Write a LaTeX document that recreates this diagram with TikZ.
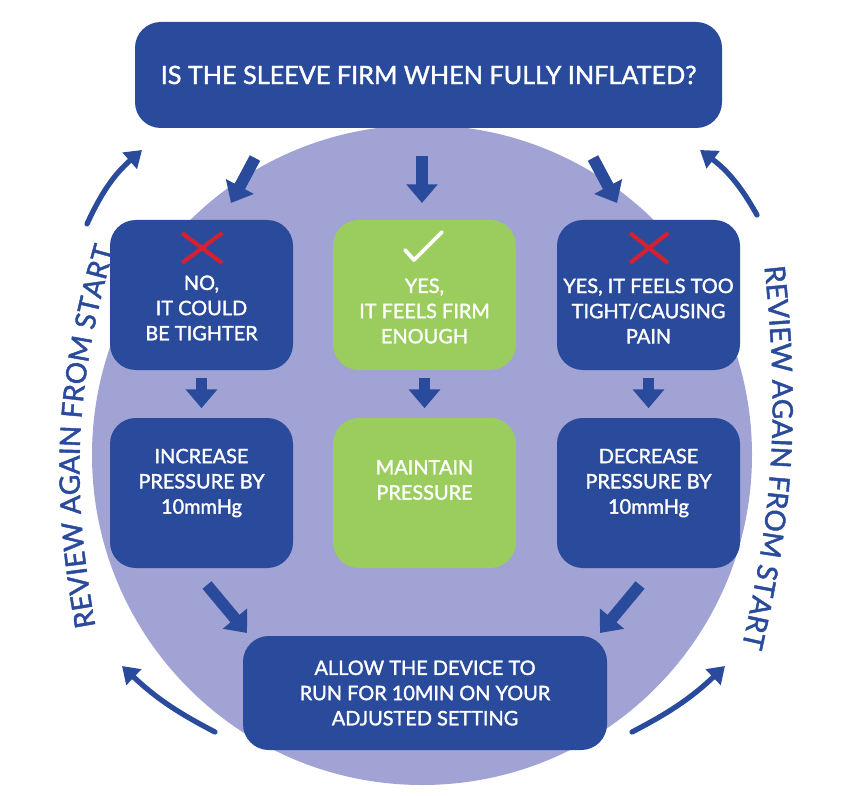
\documentclass[tikz,border=0pt]{standalone}
\usepackage{fontspec}
\setmainfont{Lato}[BoldFont=Lato,BoldFeatures={FakeBold=1.6}]
\usetikzlibrary{arrows.meta,decorations.text}
\definecolor{db}{HTML}{2A4B9B}
\definecolor{gr}{HTML}{9ACD5E}
\definecolor{lp}{HTML}{A0A3D3}
\definecolor{xr}{HTML}{D4202F}
\tikzset{
 box/.style={rounded corners=22pt,fill=db,text=white,align=center,font=\bfseries\fontsize{17}{21.5}\selectfont,inner sep=0},
 gbox/.style={box,fill=gr},
 lbl/.style={text=white,align=center,font=\bfseries\fontsize{17}{21.5}\selectfont},
 blk/.style={draw=db,line width=10pt,-{Triangle[width=26pt,length=16pt]}},
 arc/.style={draw=db,line width=4.5pt,line cap=round,-{Triangle[width=18pt,length=14pt]}},
 rev/.style={decorate,decoration={text along path,text align=center,text={|\bfseries\fontsize{24}{24}\selectfont\color{db}|REVIEW AGAIN FROM START}}},
}
\begin{document}
\begin{tikzpicture}[x=0.03cm,y=-0.03cm]
\useasboundingbox (0,0) rectangle (845,796);
\fill[lp] (422,455) circle (330*0.03cm);
\node[box,minimum width=587*0.03cm,minimum height=106*0.03cm,font=\bfseries\fontsize{21.5}{21}\selectfont] (top) at (428.5,75) {IS THE SLEEVE FIRM WHEN FULLY INFLATED?};
\foreach \n/\x/\s in {a/201.5/box,b/424.5/gbox,c/648.5/box}{
 \node[\s,minimum width=183*0.03cm,minimum height=150*0.03cm] (\n1) at (\x,295) {};
 \node[\s,minimum width=183*0.03cm,minimum height=150*0.03cm] (\n2) at (\x,493) {};
}
\node[lbl] (ta1) at (201.5,308) {NO,\\IT COULD\\BE TIGHTER};
\node[lbl] (tb1) at (424.5,311) {YES,\\IT FEELS FIRM\\ENOUGH};
\node[lbl] (tc1) at (648.5,311) {YES, IT FEELS TOO\\TIGHT/CAUSING\\PAIN};
\node[lbl] (ta2) at (201.5,483) {INCREASE\\PRESSURE BY\\10mmHg};
\node[lbl] (tb2) at (424.5,480) {MAINTAIN\\PRESSURE};
\node[lbl] (tc2) at (648.5,483) {DECREASE\\PRESSURE BY\\10mmHg};
\node[box,minimum width=364*0.03cm,minimum height=114*0.03cm] (bot) at (425,693) {ALLOW THE DEVICE TO\\RUN FOR 10MIN ON YOUR\\ADJUSTED SETTING};
% marks
\draw[xr,line width=3.5pt] (182,233)--(222,263) (222,233)--(182,263);
\draw[xr,line width=3.5pt] (630,233)--(668,263) (668,233)--(630,263);
\draw[white,line width=3.2pt,line cap=round,line join=round] (405,250)--(414,260)--(442,232);
% block arrows
\coordinate (t1s) at (255,158); \coordinate (t1e) at (231,203);
\coordinate (t2s) at (422,156); \coordinate (t2e) at (422,203);
\coordinate (t3s) at (593,158); \coordinate (t3e) at (617,203);
\draw[blk] (t1s)--(t1e); \draw[blk] (t2s)--(t2e); \draw[blk] (t3s)--(t3e);
\draw[blk] (a1.south)++(0,8)--++(0,30);
\draw[blk] (b1.south)++(0,8)--++(0,30);
\draw[blk] (c1.south)++(0,8)--++(0,30);
\coordinate (l1) at (207,585); \coordinate (l2) at (247,633);
\coordinate (r1) at (640,585); \coordinate (r2) at (600,633);
\draw[blk] (l1)--(l2); \draw[blk] (r1)--(r2);
% outer arcs
\coordinate (p1) at (87,224); \coordinate (p2) at (142,150);
\coordinate (p3) at (757,215); \coordinate (p4) at (700,150);
\coordinate (p5) at (215,732); \coordinate (p6) at (122,666);
\coordinate (p7) at (632,732); \coordinate (p8) at (725,666);
\draw[arc] (p1) to[bend left=12] (p2);
\draw[arc] (p3) to[bend right=12] (p4);
\draw[arc] (p5) to[bend left=8] (p6);
\draw[arc] (p7) to[bend right=8] (p8);
\path[rev] (100,650) to[bend left=14] (121,225);
\path[rev] (762,245) to[bend left=10] (737,668);
\end{tikzpicture}
\end{document}
